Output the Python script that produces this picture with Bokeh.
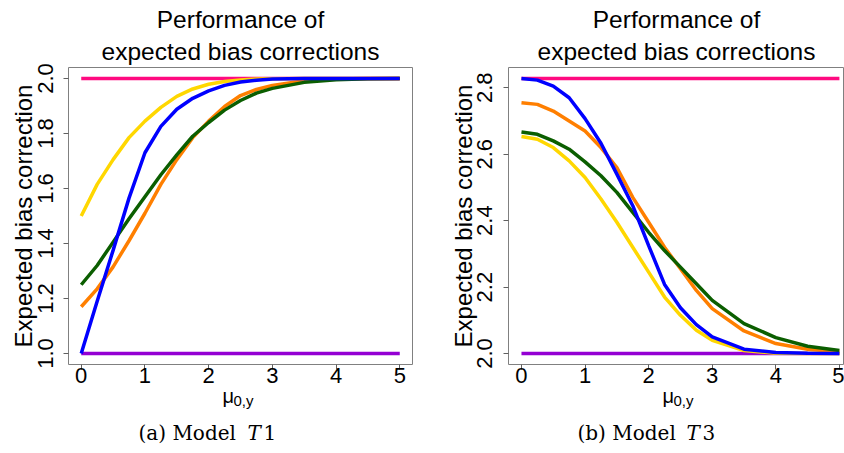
from bokeh.plotting import figure
from bokeh.layouts import row, column
from bokeh.models import Range1d, FixedTicker, PrintfTickFormatter, Label, Title
from bokeh.embed import file_html
from bokeh.resources import INLINE

# ---------------- data ----------------
mu = [0, 0.25, 0.5, 0.75, 1, 1.25, 1.5, 1.75, 2, 2.25, 2.5, 2.75, 3, 3.5, 4, 4.5, 5]

# Model T1
t1_pink = [2.0] * 17
t1_purple = [1.0] * 17
t1_yellow = [1.50, 1.615, 1.705, 1.785, 1.845, 1.895, 1.935, 1.962, 1.979, 1.989, 1.995, 1.998, 1.999, 2.0, 2.0, 2.0, 2.0]
t1_orange = [1.17, 1.235, 1.315, 1.41, 1.51, 1.615, 1.705, 1.785, 1.845, 1.898, 1.938, 1.96, 1.975, 1.992, 1.998, 2.0, 2.0]
t1_green = [1.25, 1.32, 1.405, 1.49, 1.57, 1.65, 1.722, 1.79, 1.84, 1.885, 1.92, 1.947, 1.964, 1.986, 1.995, 1.999, 2.0]
t1_blue = [1.0, 1.19, 1.375, 1.565, 1.73, 1.826, 1.888, 1.928, 1.955, 1.975, 1.987, 1.994, 1.998, 2.0, 2.0, 2.0, 2.0]

# Model T3
t3_pink = [2.828] * 17
t3_purple = [2.0] * 17
t3_yellow = [2.653, 2.645, 2.62, 2.58, 2.53, 2.465, 2.395, 2.32, 2.245, 2.17, 2.115, 2.07, 2.04, 2.009, 2.001, 2.0, 2.0]
t3_orange = [2.755, 2.75, 2.73, 2.70, 2.67, 2.62, 2.56, 2.47, 2.395, 2.32, 2.255, 2.19, 2.135, 2.068, 2.03, 2.013, 2.005]
t3_green = [2.667, 2.66, 2.64, 2.615, 2.577, 2.535, 2.485, 2.425, 2.365, 2.31, 2.26, 2.21, 2.16, 2.09, 2.048, 2.022, 2.009]
t3_blue = [2.828, 2.823, 2.805, 2.77, 2.707, 2.633, 2.54, 2.445, 2.325, 2.208, 2.138, 2.087, 2.05, 2.013, 2.003, 2.0005, 2.0]

x_ticks = [0, 1, 2, 3, 4, 5]
t1_yticks = [1.0, 1.2, 1.4, 1.6, 1.8, 2.0]
t3_yticks = [2.0, 2.2, 2.4, 2.6, 2.8]

title1 = "Performance of"
title2 = "expected bias corrections"
ylabel = "Expected bias correction"
xlabel_main = "\u03bc"
xlabel_sub = "0,y"
cap_left = ["(a) Model", "T", "1"]
cap_right = ["(b) Model", "T", "3"]

COLORS = {"pink": "#FF0A80", "purple": "#9400D3", "yellow": "#FFD700",
          "orange": "#FF7F00", "green": "#0B5E00", "blue": "#0000FF"}
SANS = "Liberation Sans"
SERIF = "DejaVu Serif"


def panel(series, xr, yr, yticks, width, min_left, min_right):
    p = figure(width=width, height=392, output_backend="svg", toolbar_location=None,
               x_range=Range1d(*xr), y_range=Range1d(*yr),
               min_border_left=min_left, min_border_right=min_right,
               min_border_top=67, min_border_bottom=28)
    p.xgrid.visible = False
    p.ygrid.visible = False
    p.outline_line_color = "#808080"
    p.outline_line_width = 1
    p.background_fill_color = "white"
    p.border_fill_color = "white"

    for name in ["pink", "purple", "yellow", "orange", "green", "blue"]:
        p.line(mu, series[name], line_color=COLORS[name], line_width=3.5)

    for ax in (p.xaxis[0], p.yaxis[0]):
        ax.axis_line_color = None
        ax.major_tick_line_color = "#606060"
        ax.major_tick_in = 0
        ax.major_tick_out = 5
        ax.minor_tick_line_color = None
        ax.major_label_text_font = SANS
        ax.major_label_text_font_size = "22px"
        ax.major_label_text_color = "black"
    p.xaxis.ticker = FixedTicker(ticks=x_ticks)
    p.xaxis.major_label_standoff = -2
    p.yaxis.ticker = FixedTicker(ticks=yticks)
    p.yaxis.formatter = PrintfTickFormatter(format="%.1f")
    p.yaxis.major_label_orientation = "vertical"
    p.yaxis.major_label_standoff = 11
    p.yaxis.axis_label = ylabel
    p.yaxis.axis_label_text_font = SANS
    p.yaxis.axis_label_text_font_size = "24px"
    p.yaxis.axis_label_text_font_style = "normal"
    p.yaxis.axis_label_text_color = "black"
    p.yaxis.axis_label_standoff = -2

    p.add_layout(Title(text=title2, align="center", standoff=6, text_font=SANS,
                       text_font_size="24.5px", text_font_style="normal",
                       text_color="black"), "above")
    p.add_layout(Title(text=title1, align="center", standoff=0, text_font=SANS,
                       text_font_size="24.5px", text_font_style="normal",
                       text_color="black"), "above")
    return p


p1 = panel({"pink": t1_pink, "purple": t1_purple, "yellow": t1_yellow, "orange": t1_orange,
            "green": t1_green, "blue": t1_blue},
           (-0.2, 5.2), (0.96, 2.04), t1_yticks, 428, 68, 16)
p2 = panel({"pink": t3_pink, "purple": t3_purple, "yellow": t3_yellow, "orange": t3_orange,
            "green": t3_green, "blue": t3_blue},
           (-0.204, 5.08), (1.967, 2.861), t3_yticks, 416, 80, 0)

# transparent text strip under the panels (x axis titles and sub-captions); page-pixel coords
annot = figure(width=844, height=73, output_backend="svg", toolbar_location=None,
               x_range=Range1d(0, 844), y_range=Range1d(453, 380),
               x_axis_type=None, y_axis_type=None, margin=(-20, 0, 0, 0),
               min_border_left=0, min_border_right=0, min_border_top=0, min_border_bottom=0)
annot.xgrid.visible = False
annot.ygrid.visible = False
annot.outline_line_color = None
annot.background_fill_color = None
annot.border_fill_color = None


def lab(x, y, t, size, font=SANS, style="normal"):
    annot.add_layout(Label(x=x, y=y, text=t, text_align="left", text_baseline="alphabetic",
                           text_font=font, text_font_size=size, text_font_style=style,
                           text_color="black"))


for x0 in (222, 662):
    lab(x0, 403, xlabel_main, "20px")
    lab(x0 + 11, 408, xlabel_sub, "15px")

for x0, cap in ((138, cap_left), (577, cap_right)):
    lab(x0, 440, cap[0], "20px", SERIF)
    lab(x0 + 109, 440, cap[1], "20px", SERIF, "italic")
    lab(x0 + 125, 440, cap[2], "20px", SERIF)

layout = column(row(p1, p2), annot)
open("out.html", "w").write(file_html(layout, INLINE))
